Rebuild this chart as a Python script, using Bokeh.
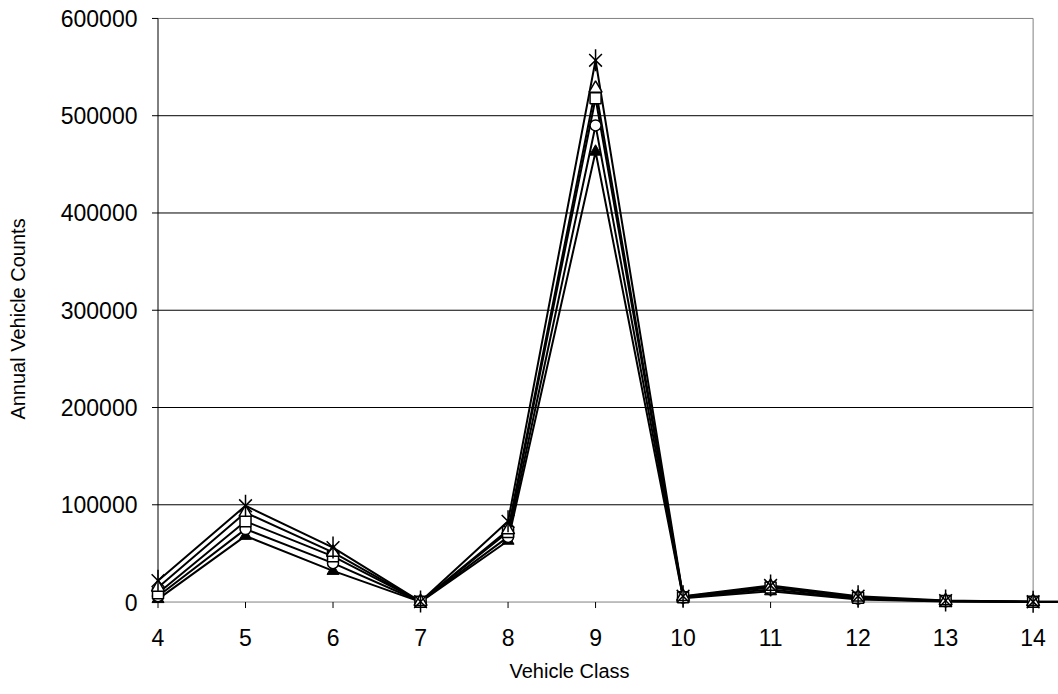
import math
from bokeh.plotting import figure
from bokeh.models import Range1d, FixedTicker, NumeralTickFormatter, Title
from bokeh.embed import file_html
from bokeh.resources import INLINE

# ---- data -------------------------------------------------------------
vehicle_class = [4, 5, 6, 7, 8, 9, 10, 11, 12, 13, 14, 15]
class_ticks = [4, 5, 6, 7, 8, 9, 10, 11, 12, 13, 14]
count_ticks = [0, 100000, 200000, 300000, 400000, 500000, 600000]

series_filled_triangle = [3000, 68000, 32000, 200, 63000, 463000, 4000, 11000, 2500, 600, 100, 0]
series_circle = [6000, 75000, 40000, 300, 67000, 490000, 4500, 13000, 3500, 800, 200, 0]
series_square = [9000, 83000, 47000, 400, 72000, 518000, 5000, 15000, 4500, 1000, 200, 0]
series_open_triangle = [15000, 92000, 51000, 400, 74000, 528000, 5500, 16000, 5000, 1200, 300, 0]
series_star = [22000, 99000, 56000, 500, 83000, 557000, 6000, 17000, 6000, 1500, 300, 0]

FONT = "Liberation Sans"

X_START, X_END = 3.8, 14.29
Y_START, Y_END = -20000, 602000
FRAME_W, FRAME_H = 918, 605

p = figure(frame_width=FRAME_W, frame_height=FRAME_H,
           min_border_left=140, min_border_right=0,
           min_border_top=16, min_border_bottom=73,
           x_range=Range1d(X_START, X_END), y_range=Range1d(Y_START, Y_END),
           output_backend="svg", toolbar_location=None)
p.outline_line_color = None
p.xgrid.visible = False
p.ygrid.visible = False
p.background_fill_color = "white"

# pixel -> data helpers
px_x = (X_END - X_START) / FRAME_W
px_y = (Y_END - Y_START) / FRAME_H
TICK = 6

x_lo, x_hi = min(class_ticks), max(class_ticks)
y_lo, y_hi = min(count_ticks), max(count_ticks)

# gridlines and plot-area border (only across the category span)
inner = count_ticks[1:-1]
p.segment(x0=[x_lo] * len(inner), x1=[x_hi] * len(inner), y0=inner, y1=inner,
          line_color="black", line_width=1)
p.segment(x0=[x_lo], x1=[x_hi], y0=[y_hi], y1=[y_hi],
          line_color="#808080", line_width=1)
p.segment(x0=[x_hi], x1=[x_hi], y0=[y_lo], y1=[y_hi],
          line_color="#808080", line_width=1)

# axis lines and outward tick marks at the real axis positions
p.segment(x0=[x_lo], x1=[x_hi], y0=[y_lo], y1=[y_lo], line_color="#808080", line_width=1)
p.segment(x0=[x_lo], x1=[x_lo], y0=[y_lo], y1=[y_hi], line_color="black", line_width=1)
p.segment(x0=class_ticks, x1=class_ticks, y0=[y_lo] * len(class_ticks),
          y1=[y_lo - TICK * px_y] * len(class_ticks), line_color="black", line_width=1)
p.segment(x0=[x_lo] * len(count_ticks), x1=[x_lo - TICK * px_x] * len(count_ticks),
          y0=count_ticks, y1=count_ticks, line_color="black", line_width=1)

# series
all_series = [series_filled_triangle, series_circle, series_square,
              series_open_triangle, series_star]
for s in all_series:
    p.line(vehicle_class, s, line_color="black", line_width=2)

p.scatter(vehicle_class, series_filled_triangle, marker="triangle", size=12,
          fill_color="black", line_color="black", line_width=1)
p.scatter(vehicle_class, series_circle, marker="circle", size=11,
          fill_color="white", line_color="black", line_width=1.5)
p.scatter(vehicle_class, series_square, marker="square", size=11,
          fill_color="white", line_color="black", line_width=1.5)
p.scatter(vehicle_class, series_open_triangle, marker="triangle", size=13,
          fill_color="white", line_color="black", line_width=1.5)
p.scatter(vehicle_class, series_star, marker="x", size=18,
          line_color="black", line_width=1.5)
p.scatter(vehicle_class, series_star, marker="dash", size=22, angle=math.pi / 2,
          line_color="black", line_width=1.5)

# axes: tick labels (lines/ticks drawn above at the data positions)
xa = p.xaxis[0]
xa.ticker = FixedTicker(ticks=class_ticks)
xa.major_label_standoff = 7

ya = p.yaxis[0]
ya.ticker = FixedTicker(ticks=count_ticks)
ya.formatter = NumeralTickFormatter(format="0")
ya.axis_label = "Annual Vehicle Counts"
ya.major_label_standoff = 3
ya.axis_label_standoff = 29

for ax in (xa, ya):
    ax.axis_line_color = None
    ax.major_tick_line_color = None
    ax.minor_tick_line_color = None
    ax.major_tick_in = 0
    ax.major_tick_out = 0
    ax.minor_tick_in = 0
    ax.minor_tick_out = 0
    ax.major_label_text_font = FONT
    ax.major_label_text_font_size = "23px"
    ax.major_label_text_color = "black"
    ax.axis_label_text_font = FONT
    ax.axis_label_text_font_size = "20px"
    ax.axis_label_text_font_style = "normal"
    ax.axis_label_text_color = "black"

# x-axis title, slightly left of the plot-area centre as in the reference
p.add_layout(Title(text="Vehicle Class", align="left", offset=369, standoff=19,
                   text_font=FONT, text_font_size="20px", text_font_style="normal",
                   text_color="black"), "below")

open("out.html", "w").write(file_html(p, INLINE))
